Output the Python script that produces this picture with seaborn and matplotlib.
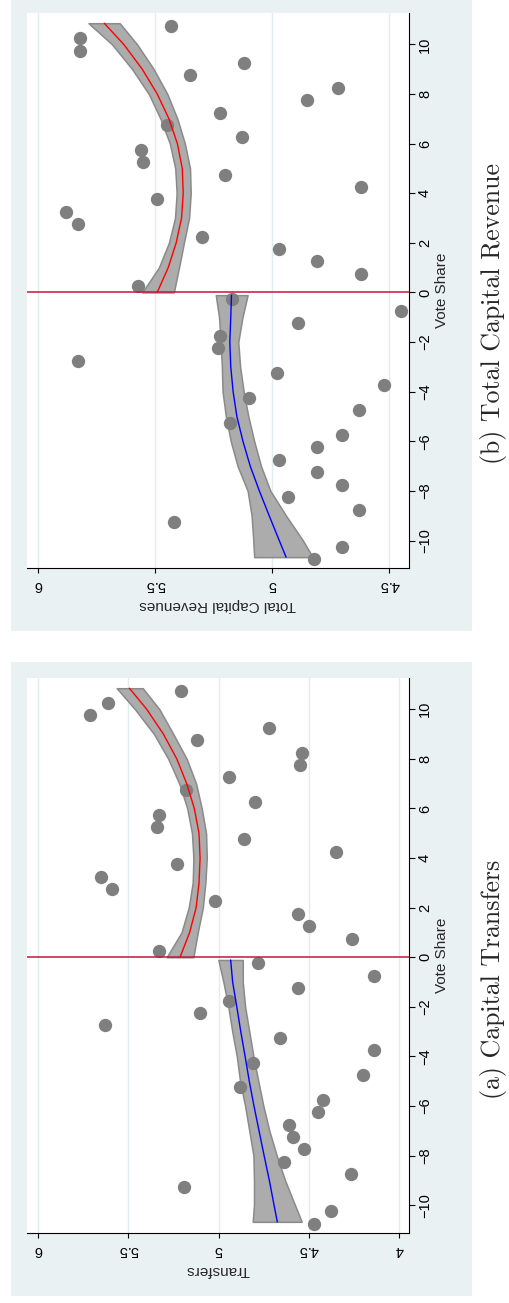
import seaborn as sns
import matplotlib.pyplot as plt
from matplotlib.patches import Rectangle
from matplotlib.ticker import FuncFormatter

# Puntos medios de los bins de vote share (el bin -9.75 no aparece)
vote_bins = [10.75, 10.25, 9.75, 9.25, 8.75, 8.25, 7.75, 7.25, 6.75, 6.25, 5.75,
             5.25, 4.75, 4.25, 3.75, 3.25, 2.75, 2.25, 1.75, 1.25, 0.75, 0.25,
             -0.25, -0.75, -1.25, -1.75, -2.25, -2.75, -3.25, -3.75, -4.25, -4.75,
             -5.25, -5.75, -6.25, -6.75, -7.25, -7.75, -8.25, -8.75, -9.25,
             -10.25, -10.75]

# (a) Capital Transfers
transfers = [5.21, 5.61, 5.71, 4.72, 5.12, 4.54, 4.55, 4.94, 5.18, 4.80, 5.33,
             5.34, 4.86, 4.35, 5.23, 5.65, 5.59, 5.02, 4.56, 4.50, 4.26, 5.33,
             4.78, 4.14, 4.56, 4.94, 5.10, 5.63, 4.66, 4.14, 4.81, 4.20,
             4.88, 4.42, 4.45, 4.61, 4.59, 4.53, 4.64, 4.27, 5.19,
             4.38, 4.47]

# (b) Total Capital Revenue
revenues = [5.43, 5.82, 5.82, 5.12, 5.35, 4.72, 4.85, 5.22, 5.45, 5.13, 5.56,
            5.55, 5.20, 4.62, 5.49, 5.88, 5.83, 5.30, 4.97, 4.81, 4.62, 5.57,
            5.17, 4.45, 4.89, 5.22, 5.23, 5.83, 4.98, 4.52, 5.10, 4.63,
            5.18, 4.70, 4.81, 4.97, 4.81, 4.70, 4.93, 4.63, 5.42,
            4.70, 4.82]

# Ajustes cuadraticos con intervalo de confianza
fit_vote_r = [0, 1, 2, 3, 4, 5, 6, 7, 8, 9, 10, 10.85]
fit_vote_l = [-10.67, -10, -9, -8, -7, -6, -5, -4, -3, -2, -1, -0.11]

transfers_fit_r = [5.213, 5.160, 5.124, 5.108, 5.102, 5.108, 5.134, 5.176, 5.231, 5.305, 5.397, 5.493]
transfers_lo_r = [5.139, 5.115, 5.087, 5.073, 5.065, 5.069, 5.093, 5.124, 5.176, 5.250, 5.327, 5.419]
transfers_hi_r = [5.287, 5.205, 5.165, 5.143, 5.139, 5.147, 5.173, 5.217, 5.278, 5.357, 5.462, 5.563]
transfers_fit_l = [4.675, 4.693, 4.719, 4.748, 4.776, 4.804, 4.830, 4.853, 4.877, 4.899, 4.922, 4.933]
transfers_lo_l = [4.540, 4.577, 4.632, 4.678, 4.719, 4.752, 4.780, 4.807, 4.830, 4.853, 4.866, 4.866]
transfers_hi_l = [4.811, 4.804, 4.804, 4.807, 4.830, 4.853, 4.881, 4.899, 4.924, 4.946, 4.973, 5.001]

revenues_fit_r = [5.490, 5.443, 5.409, 5.386, 5.379, 5.383, 5.404, 5.440, 5.490, 5.554, 5.633, 5.716]
revenues_lo_r = [5.419, 5.397, 5.376, 5.354, 5.347, 5.350, 5.372, 5.404, 5.447, 5.505, 5.576, 5.650]
revenues_hi_r = [5.554, 5.483, 5.440, 5.414, 5.407, 5.413, 5.436, 5.476, 5.526, 5.597, 5.683, 5.783]
revenues_fit_l = [4.940, 4.969, 5.012, 5.054, 5.093, 5.124, 5.150, 5.166, 5.176, 5.180, 5.176, 5.173]
revenues_lo_l = [4.826, 4.868, 4.940, 5.007, 5.047, 5.076, 5.101, 5.121, 5.136, 5.144, 5.126, 5.104]
revenues_hi_l = [5.076, 5.080, 5.087, 5.104, 5.147, 5.176, 5.197, 5.211, 5.214, 5.219, 5.226, 5.240]

vote_ticks = [-10, -8, -6, -4, -2, 0, 2, 4, 6, 8, 10]

sns.set_style("white")
plt.rcParams["font.family"] = ["Liberation Sans", "DejaVu Sans"]

W, H = 509, 1303
fig = plt.figure(figsize=(W / 100, H / 100), dpi=100)

BG = "#EAF1F3"
GRID = "#E3ECEF"
PUNTOS = "#7F7F7F"


def px_rect(x0, y0, x1, y1):
    # pixeles de la imagen (origen arriba) -> coordenadas de figura
    return [x0 / W, 1 - y1 / H, (x1 - x0) / W, (y1 - y0) / H]


def panel(rect_bg, rect_ax, valores, fits, xlim, xticks, xlabel, caption, cap_y):
    x, y, w, h = px_rect(*rect_bg)
    fig.patches.append(Rectangle((x, y), w, h, transform=fig.transFigure,
                                 facecolor=BG, edgecolor="none", zorder=-5))
    ax = fig.add_axes(px_rect(*rect_ax))
    ax.set_facecolor("white")

    fit_r, lo_r, hi_r, fit_l, lo_l, hi_l = fits
    for v, lo, hi in [(fit_vote_r, lo_r, hi_r), (fit_vote_l, lo_l, hi_l)]:
        ax.fill_betweenx(v, lo, hi, facecolor="#ACACAC", edgecolor="#8A8A8A",
                         linewidth=1.1, zorder=2)

    sns.scatterplot(x=valores, y=vote_bins, ax=ax, color=PUNTOS, s=92,
                    linewidth=0, zorder=3)

    sns.lineplot(x=fit_r, y=fit_vote_r, ax=ax, sort=False, estimator=None,
                 color="#FF0000", linewidth=1.0, zorder=4)
    sns.lineplot(x=fit_l, y=fit_vote_l, ax=ax, sort=False, estimator=None,
                 color="#0000FF", linewidth=1.0, zorder=4)

    ax.axhline(0, color="#C8143C", linewidth=1.1, zorder=5)

    ax.set_xlim(*xlim)
    ax.set_ylim(-11.12, 11.25)
    ax.set_xticks(xticks)
    ax.set_yticks(vote_ticks)
    ax.xaxis.set_major_formatter(FuncFormatter(lambda t, p: f"{t:g}"))

    ax.grid(axis="x", color=GRID, linewidth=1.0)
    ax.grid(axis="y", visible=False)
    ax.set_axisbelow(True)

    for lado in ["top", "left"]:
        ax.spines[lado].set_visible(False)
    for lado in ["bottom", "right"]:
        ax.spines[lado].set_color("black")
        ax.spines[lado].set_linewidth(0.8)

    ax.yaxis.tick_right()
    ax.tick_params(axis="x", bottom=True, direction="out", length=3.6, width=0.8,
                   pad=3.5, labelrotation=180, labelsize=10.5, colors="black")
    ax.tick_params(axis="y", right=True, left=False, direction="out", length=4.3,
                   width=0.8, pad=2, labelrotation=90, labelsize=10.5, colors="black")
    plt.setp(ax.get_yticklabels(), va="center")

    ax.set_xlabel(xlabel, rotation=180, fontsize=11)
    ax.xaxis.set_label_coords(0.5, -0.067)
    ax.xaxis.label.set_va("center")

    ax.yaxis.set_label_position("right")
    ax.set_ylabel("Vote Share", rotation=90, fontsize=11)
    ax.yaxis.set_label_coords(1.086, 0.5)
    ax.yaxis.label.set_va("center")
    ax.yaxis.label.set_ha("center")

    fig.text(500 / W, 1 - cap_y / H, caption, rotation=90, rotation_mode="anchor",
             ha="center", va="baseline", fontsize=18.6, family="cmr10")
    return ax


# (b) arriba
panel((11, 0, 471.7, 631), (26.7, 13.3, 409.3, 568.3), revenues,
      (revenues_fit_r, revenues_lo_r, revenues_hi_r,
       revenues_fit_l, revenues_lo_l, revenues_hi_l),
      (6.047, 4.414), [6, 5.5, 5, 4.5], "Total Capital Revenues",
      "(b) Total Capital Revenue", 313.4)

# (a) abajo
panel((11, 662.3, 471.7, 1296.3), (26.7, 678.3, 409.3, 1233), transfers,
      (transfers_fit_r, transfers_lo_r, transfers_hi_r,
       transfers_fit_l, transfers_lo_l, transfers_hi_l),
      (6.061, 3.945), [6, 5.5, 5, 4.5, 4], "Transfers",
      "(a) Capital Transfers", 979)

fig.savefig("out.png", dpi=100)
